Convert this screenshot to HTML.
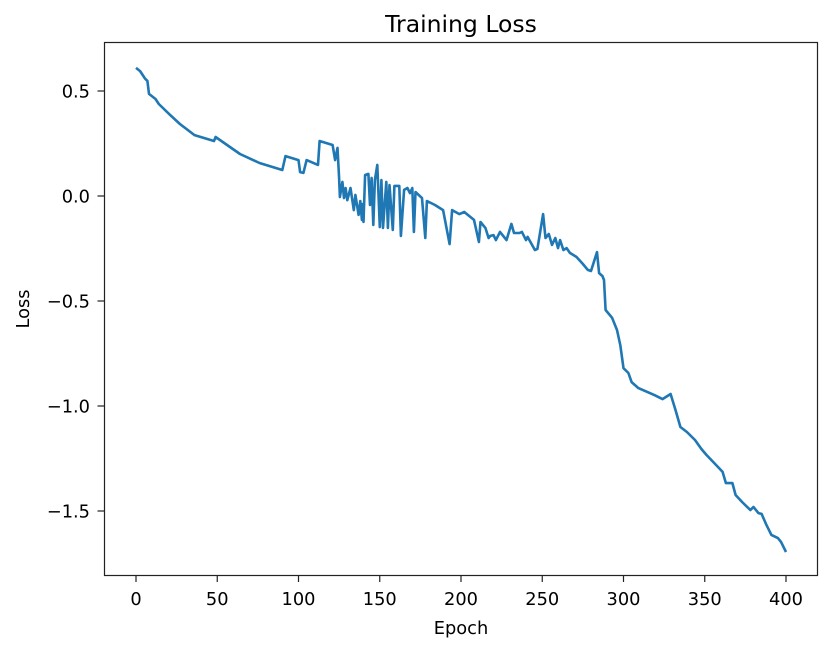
<!DOCTYPE html>
<html><head><meta charset="utf-8"><style>
body{margin:0;background:#fff}
svg{display:block;font-family:"DejaVu Sans","Liberation Sans",sans-serif}
</style></head><body>
<svg id="chart" width="831" height="651">
<rect width="831" height="651" fill="#fff"/>
<text x="461" y="32" text-anchor="middle" font-size="23.5">Training Loss</text>
<text x="461" y="634" text-anchor="middle" font-size="17.8">Epoch</text>
<text x="29" y="309" text-anchor="middle" font-size="17.8" transform="rotate(-90 29 309)">Loss</text>
<g id="ticks"></g>
<path id="line" fill="none" stroke="#1f77b4" stroke-width="2.6" stroke-linejoin="round"/>
<rect x="104.5" y="42.5" width="713" height="533" fill="none" stroke="#222" stroke-width="1.2"/>
</svg>
<script>
const epochs=[0,2.5,5.5,7,8,12,14,21,27,36,48,49,64,76,90,92,100,101,103,105,112,113,121,122.5,124,125,125.5,127,128,129,130,132,134,135,137,138,139,139.5,140,141,143,144,145,146,147,148.5,150,151,152,154,155,156,158,159,162,163,165,167,168.6,170,171,172,176,178,179,184,189,193,194.5,199,202,208,211,212,215,217,218,220,221.5,224,228,231,232.6,236,237.5,240,241,245.5,247,250.5,252,254,256,258,259.7,261,263,265,267,271,275,278,280,283.7,285,287,288,289,293,296,298,300,303,305,309,319,324,329,332,335,339,344,348,351,357,361,363,367,369,373,378,380,383,385,388,391,395,397,400];
const losses=[0.61,0.595,0.56,0.548,0.486,0.462,0.438,0.386,0.343,0.29,0.262,0.281,0.2,0.157,0.124,0.19,0.171,0.114,0.11,0.171,0.148,0.262,0.243,0.171,0.229,0.086,-0.005,0.067,-0.01,0.038,-0.02,0.038,-0.067,0.005,-0.09,-0.024,-0.114,-0.038,-0.124,0.1,0.105,-0.043,0.086,-0.138,0.076,0.148,-0.148,0.076,-0.152,0.067,-0.152,0.052,-0.162,0.048,0.048,-0.19,0.029,0.038,0.014,0.038,-0.171,0.019,-0.01,-0.2,-0.024,-0.043,-0.067,-0.229,-0.067,-0.086,-0.076,-0.114,-0.219,-0.124,-0.152,-0.2,-0.19,-0.186,-0.21,-0.171,-0.21,-0.133,-0.176,-0.176,-0.171,-0.21,-0.195,-0.257,-0.252,-0.086,-0.2,-0.181,-0.233,-0.2,-0.248,-0.21,-0.257,-0.248,-0.271,-0.29,-0.324,-0.352,-0.357,-0.267,-0.367,-0.381,-0.4,-0.543,-0.58,-0.638,-0.71,-0.82,-0.843,-0.886,-0.914,-0.948,-0.967,-0.943,-1.019,-1.1,-1.124,-1.162,-1.205,-1.233,-1.281,-1.314,-1.367,-1.367,-1.424,-1.457,-1.495,-1.481,-1.51,-1.514,-1.567,-1.614,-1.629,-1.648,-1.695];
const xTicks=[0,50,100,150,200,250,300,350,400];
const yTicks=[0.5,0.0,-0.5,-1.0,-1.5];
const yTickLabels=["0.5","0.0","\u22120.5","\u22121.0","\u22121.5"];
const X=e=>136+e*1.625;
const Y=v=>196-v*210;
const NS="http://www.w3.org/2000/svg";
const g=document.getElementById('ticks');
xTicks.forEach(t=>{
  const l=document.createElementNS(NS,'line');
  l.setAttribute('x1',X(t));l.setAttribute('x2',X(t));l.setAttribute('y1',575.5);l.setAttribute('y2',582);l.setAttribute('stroke','#222');l.setAttribute('stroke-width','1.2');
  
  
  g.appendChild(l);
  const tx=document.createElementNS(NS,'text');
  tx.setAttribute('x',X(t));tx.setAttribute('y',605);tx.setAttribute('text-anchor','middle');tx.setAttribute('font-size','17.8');
  tx.textContent=t;
  
  
  g.appendChild(tx);
});
yTicks.forEach((t,i)=>{
  const l=document.createElementNS(NS,'line');
  l.setAttribute('x1',97.5);l.setAttribute('x2',104.5);l.setAttribute('y1',Y(t));l.setAttribute('y2',Y(t));l.setAttribute('stroke','#222');l.setAttribute('stroke-width','1.2');
  
  
  g.appendChild(l);
  const tx=document.createElementNS(NS,'text');
  tx.setAttribute('x',90);tx.setAttribute('y',Y(t)+6.5);tx.setAttribute('text-anchor','end');tx.setAttribute('font-size','17.8');
  tx.textContent=yTickLabels[i];
  
  
  g.appendChild(tx);
});
document.getElementById('line').setAttribute('d',epochs.map((e,i)=>(i?'L':'M')+X(e).toFixed(1)+','+Y(losses[i]).toFixed(1)).join(''));
</script>
</body></html>
